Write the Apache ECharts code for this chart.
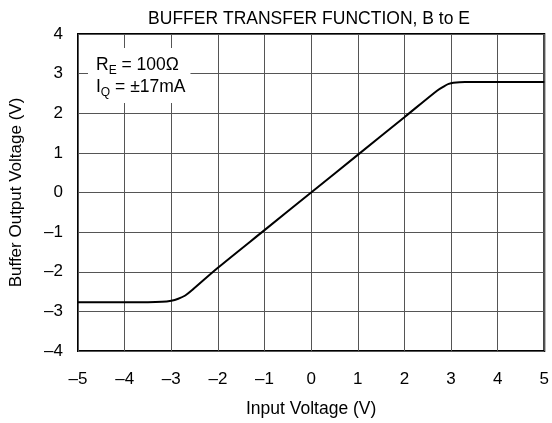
<!DOCTYPE html>
<html><head><meta charset="utf-8">
<script src="https://cdn.jsdelivr.net/npm/echarts@6/dist/echarts.min.js"></script>
<style>html,body{margin:0;padding:0;background:#fff}#c{width:552px;height:423px}</style>
</head><body><div id="c"></div>
<script>
const inputV = [-5, -4, -3.5, -3.2, -3.0, -2.85, -2.7, -2.55, -2, -1, 0, 1, 2, 2.7, 2.85, 2.95, 3.05, 3.3, 4, 5];
const outputV = [-2.77, -2.77, -2.77, -2.76, -2.73, -2.68, -2.6, -2.46, -1.9, -0.95, 0, 0.95, 1.9, 2.57, 2.68, 2.74, 2.77, 2.79, 2.79, 2.79];
const titleText = 'BUFFER TRANSFER FUNCTION, B to E';
const xName = 'Input Voltage (V)';
const yName = 'Buffer Output Voltage (V)';
const fmt = v => (v < 0 ? '\u2013' + Math.abs(v) : String(v));
const font = 'Liberation Sans, Arial, sans-serif';
const chart = echarts.init(document.getElementById('c'));
chart.setOption({
  animation: false,
  textStyle: {fontFamily: font},
  title: [{
    text: titleText, left: 304, top: 5, textAlign: 'center',
    textStyle: {fontSize: 17.5, fontWeight: 'normal', color: '#000', fontFamily: font}
  }, {
    text: '{n|R}{s|E}{n| = 100\u03A9}\n{n|I}{s|Q}{n| = \u00B117mA}',
    left: 88, top: 49, backgroundColor: '#fff', padding: [5, 5, 4, 8],
    textStyle: {
      fontFamily: font, fontWeight: 'normal',
      rich: {
        n: {fontSize: 17.5, color: '#000', lineHeight: 22, fontFamily: font, fontWeight: 'normal'},
        s: {fontSize: 12, color: '#000', lineHeight: 22, padding: [12, 0, 0, 0], fontFamily: font, fontWeight: 'normal'}
      }
    }
  }],
  grid: {left: 75, right: 5, top: 34, bottom: 69, show: true, borderColor: '#000', borderWidth: 2, backgroundColor: 'transparent'},
  xAxis: {
    type: 'value', min: -5, max: 5, interval: 1,
    name: xName, nameLocation: 'middle', nameGap: 49,
    nameTextStyle: {fontSize: 17.5, color: '#000', fontFamily: font},
    axisLine: {show: false}, axisTick: {show: false},
    axisLabel: {formatter: fmt, fontSize: 17, color: '#000', margin: 20, fontFamily: font},
    splitLine: {show: true, lineStyle: {color: '#555', width: 1}}
  },
  yAxis: {
    type: 'value', min: -4, max: 4, interval: 1,
    name: yName, nameLocation: 'middle', nameGap: 53,
    nameTextStyle: {fontSize: 17, color: '#000', fontFamily: font},
    axisLine: {show: false}, axisTick: {show: false},
    axisLabel: {formatter: fmt, fontSize: 17, color: '#000', margin: 15, padding: [7, 0, 0, 0], fontFamily: font},
    splitLine: {show: true, lineStyle: {color: '#555', width: 1}}
  },
  series: [{
    type: 'line', data: inputV.map((x, i) => [x, outputV[i]]),
    showSymbol: false, smooth: 0.3, lineStyle: {color: '#000', width: 2}, z: 1
  }]
});
</script></body></html>
